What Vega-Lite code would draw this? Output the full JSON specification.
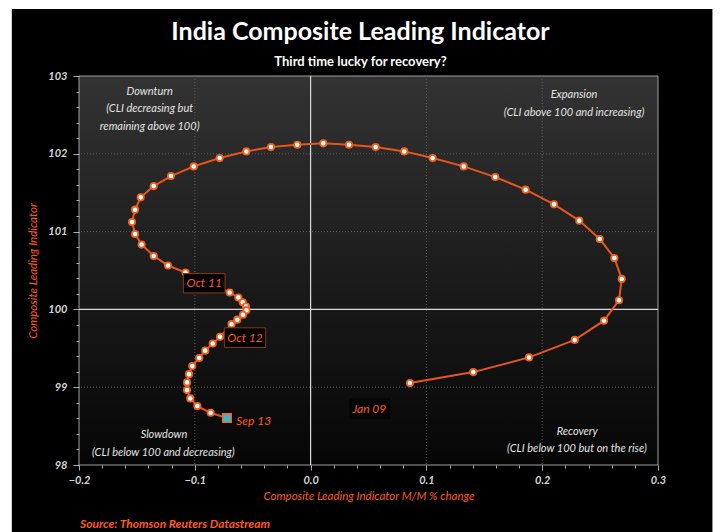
{
  "$schema": "https://vega.github.io/schema/vega-lite/v6.json",
  "width": 579,
  "height": 389,
  "autosize": "none",
  "padding": {"left": 79, "top": 76, "right": 62, "bottom": 67},
  "background": "white",
  "config": {"view": {"stroke": null}, "font": "Lato"},
  "title": {
    "text": "India Composite Leading Indicator",
    "subtitle": "Third time lucky for recovery?",
    "color": "white",
    "subtitleColor": "white",
    "font": "Lato",
    "fontSize": 25,
    "fontWeight": "bold",
    "subtitleFont": "Lato",
    "subtitleFontSize": 13,
    "subtitleFontWeight": "bold",
    "subtitlePadding": 11,
    "anchor": "middle",
    "frame": "group",
    "offset": -60,
    "dx": -8,
    "zindex": 2
  },
  "datasets": {
    "pts": [
      {"i": 1, "x": 0.0858, "y": 99.053},
      {"i": 2, "x": 0.1405, "y": 99.194},
      {"i": 3, "x": 0.1886, "y": 99.383},
      {"i": 4, "x": 0.2281, "y": 99.608},
      {"i": 5, "x": 0.2534, "y": 99.855},
      {"i": 6, "x": 0.2663, "y": 100.118},
      {"i": 7, "x": 0.2687, "y": 100.392},
      {"i": 8, "x": 0.2623, "y": 100.661},
      {"i": 9, "x": 0.2497, "y": 100.905},
      {"i": 10, "x": 0.2320, "y": 101.141},
      {"i": 11, "x": 0.2102, "y": 101.350},
      {"i": 12, "x": 0.1857, "y": 101.539},
      {"i": 13, "x": 0.1595, "y": 101.701},
      {"i": 14, "x": 0.1322, "y": 101.838},
      {"i": 15, "x": 0.1054, "y": 101.945},
      {"i": 16, "x": 0.0809, "y": 102.031},
      {"i": 17, "x": 0.0562, "y": 102.086},
      {"i": 18, "x": 0.0332, "y": 102.117},
      {"i": 19, "x": 0.0110, "y": 102.134},
      {"i": 20, "x": -0.0115, "y": 102.117},
      {"i": 21, "x": -0.0342, "y": 102.086},
      {"i": 22, "x": -0.0555, "y": 102.031},
      {"i": 23, "x": -0.0785, "y": 101.945},
      {"i": 24, "x": -0.1009, "y": 101.838},
      {"i": 25, "x": -0.1206, "y": 101.714},
      {"i": 26, "x": -0.1355, "y": 101.585},
      {"i": 27, "x": -0.1467, "y": 101.440},
      {"i": 28, "x": -0.1516, "y": 101.282},
      {"i": 29, "x": -0.1542, "y": 101.123},
      {"i": 30, "x": -0.1516, "y": 100.969},
      {"i": 31, "x": -0.1459, "y": 100.833},
      {"i": 32, "x": -0.1355, "y": 100.687},
      {"i": 33, "x": -0.1231, "y": 100.564},
      {"i": 34, "x": -0.1080, "y": 100.474},
      {"i": 35, "x": -0.0699, "y": 100.217},
      {"i": 36, "x": -0.0624, "y": 100.153},
      {"i": 37, "x": -0.0586, "y": 100.092},
      {"i": 38, "x": -0.0558, "y": 100.037},
      {"i": 39, "x": -0.0554, "y": 99.990},
      {"i": 40, "x": -0.0584, "y": 99.932},
      {"i": 41, "x": -0.0633, "y": 99.868},
      {"i": 42, "x": -0.0683, "y": 99.810},
      {"i": 43, "x": -0.0782, "y": 99.647},
      {"i": 44, "x": -0.0845, "y": 99.562},
      {"i": 45, "x": -0.0910, "y": 99.470},
      {"i": 46, "x": -0.0962, "y": 99.376},
      {"i": 47, "x": -0.1022, "y": 99.271},
      {"i": 48, "x": -0.1050, "y": 99.168},
      {"i": 49, "x": -0.1067, "y": 99.062},
      {"i": 50, "x": -0.1067, "y": 98.963},
      {"i": 51, "x": -0.1039, "y": 98.856},
      {"i": 52, "x": -0.0978, "y": 98.757},
      {"i": 53, "x": -0.0863, "y": 98.671},
      {"i": 54, "x": -0.0722, "y": 98.603}
    ],
    "boxes": [
      {"label": "Oct 11", "x1": -0.1099, "x2": -0.0739, "y1": 100.461, "y2": 100.212, "fill": "#000000", "stroke": "#8a3a18"},
      {"label": "Oct 12", "x1": -0.0745, "x2": -0.0388, "y1": 99.763, "y2": 99.511, "fill": "#000000", "stroke": "#8a3a18"},
      {"label": "Jan 09", "x1": 0.0340, "x2": 0.0685, "y1": 98.85, "y2": 98.60, "fill": "#050505", "stroke": "#050505"}
    ],
    "dates": [
      {"label": "Oct 11", "lx": -0.0919, "ly": 100.337},
      {"label": "Oct 12", "lx": -0.0567, "ly": 99.637},
      {"label": "Sep 13", "lx": -0.0491, "ly": 98.565},
      {"label": "Jan 09", "lx": 0.0507, "ly": 98.72}
    ],
    "notes": [
      {"text": "Downturn", "nx": -0.139, "ny": 102.79},
      {"text": "(CLI decreasing but", "nx": -0.139, "ny": 102.57},
      {"text": "remaining above 100)", "nx": -0.139, "ny": 102.35},
      {"text": "Expansion", "nx": 0.2275, "ny": 102.75},
      {"text": "(CLI above 100 and increasing)", "nx": 0.2275, "ny": 102.53},
      {"text": "Slowdown", "nx": -0.1266, "ny": 98.38},
      {"text": "(CLI below 100 and decreasing)", "nx": -0.1272, "ny": 98.16},
      {"text": "Recovery", "nx": 0.2303, "ny": 98.42},
      {"text": "(CLI below 100 but on the rise)", "nx": 0.2300, "ny": 98.20}
    ],
    "gridx": [{"gx": -0.1}, {"gx": 0.1}, {"gx": 0.2}],
    "gridy": [{"gy": 99}, {"gy": 101}, {"gy": 102}],
    "source": [{"text": "Source: Thomson Reuters Datastream", "sx": -0.1991, "sy": 97.236}]
  },
  "resolve": {"axis": {"x": "independent", "y": "independent"}},
  "layer": [
    {
      "data": {"values": [{}]},
      "mark": {"type": "rect", "fill": "#000000"},
      "encoding": {
        "x": {
          "datum": -0.258, "type": "quantitative",
          "scale": {"domain": [-0.2, 0.3], "nice": false, "zero": false},
          "axis": {
            "orient": "bottom",
            "values": [-0.2, -0.1, 0, 0.1, 0.2, 0.3],
            "format": ".1f",
            "grid": false, "domain": false, "labelFlush": false,
            "tickColor": "#b0b0b0", "tickSize": 5,
            "labelColor": "#d6d6d6", "labelFont": "Lato", "labelFontStyle": "italic", "labelFontWeight": "bold", "labelFontSize": 11, "labelPadding": 4,
            "title": "Composite Leading Indicator M/M % change",
            "titleColor": "#ff5a1f", "titleFont": "Lato", "titleFontStyle": "italic", "titleFontWeight": "normal", "titleFontSize": 11.5, "titlePadding": 5,
            "zindex": 1
          }
        },
        "x2": {"datum": 0.347},
        "y": {
          "datum": 97.0, "type": "quantitative",
          "scale": {"domain": [98, 103], "nice": false, "zero": false},
          "axis": {
            "orient": "left",
            "values": [98, 99, 100, 101, 102, 103],
            "format": "d",
            "grid": false, "domain": false, "labelFlush": false,
            "tickColor": "#b0b0b0", "tickSize": 6,
            "labelColor": "#d6d6d6", "labelFont": "Lato", "labelFontStyle": "italic", "labelFontWeight": "bold", "labelFontSize": 11, "labelPadding": 6,
            "title": "Composite Leading Indicator",
            "titleColor": "#ff5a1f", "titleFont": "Lato", "titleFontStyle": "italic", "titleFontWeight": "normal", "titleFontSize": 11.5, "titlePadding": 9,
            "zindex": 1
          }
        },
        "y2": {"datum": 103.86}
      }
    },
    {
      "data": {"values": [{}]},
      "mark": {
        "type": "rect",
        "stroke": "#a0a0a0", "strokeWidth": 1,
        "fill": {"gradient": "linear", "x1": 0, "y1": 0, "x2": 0, "y2": 1,
          "stops": [{"offset": 0, "color": "#333333"}, {"offset": 0.5, "color": "#1c1c1c"}, {"offset": 1, "color": "#060606"}]}
      },
      "encoding": {
        "x": {
          "datum": -0.2, "type": "quantitative",
          "axis": {
            "orient": "bottom",
            "values": [-0.18, -0.16, -0.14, -0.12, -0.08, -0.06, -0.04, -0.02, 0.02, 0.04, 0.06, 0.08, 0.12, 0.14, 0.16, 0.18, 0.22, 0.24, 0.26, 0.28],
            "labels": false, "grid": false, "domain": false, "title": null,
            "tickColor": "#b0b0b0", "tickSize": 3, "zindex": 1
          }
        },
        "x2": {"datum": 0.3},
        "y": {
          "datum": 98, "type": "quantitative",
          "axis": {
            "orient": "left",
            "values": [98.2, 98.4, 98.6, 98.8, 99.2, 99.4, 99.6, 99.8, 100.2, 100.4, 100.6, 100.8, 101.2, 101.4, 101.6, 101.8, 102.2, 102.4, 102.6, 102.8],
            "labels": false, "grid": false, "domain": false, "title": null,
            "tickColor": "#b0b0b0", "tickSize": 3, "zindex": 1
          }
        },
        "y2": {"datum": 103}
      }
    },
    {
      "data": {"name": "gridx"},
      "mark": {"type": "rule", "color": "#5a5a5a", "strokeDash": [1, 2], "strokeWidth": 1},
      "encoding": {"x": {"field": "gx", "type": "quantitative", "axis": null}}
    },
    {
      "data": {"name": "gridy"},
      "mark": {"type": "rule", "color": "#5a5a5a", "strokeDash": [1, 2], "strokeWidth": 1},
      "encoding": {"y": {"field": "gy", "type": "quantitative", "axis": null}}
    },
    {
      "data": {"values": [{}]},
      "mark": {"type": "rule", "color": "#d8d8d8", "strokeWidth": 1.2},
      "encoding": {"x": {"datum": 0, "type": "quantitative", "axis": null}}
    },
    {
      "data": {"values": [{}]},
      "mark": {"type": "rule", "color": "#d8d8d8", "strokeWidth": 1.2},
      "encoding": {"y": {"datum": 100, "type": "quantitative", "axis": null}}
    },
    {
      "data": {"name": "pts"},
      "mark": {"type": "line", "color": "#e8561e", "strokeWidth": 2},
      "encoding": {
        "x": {"field": "x", "type": "quantitative", "axis": null},
        "y": {"field": "y", "type": "quantitative", "axis": null},
        "order": {"field": "i", "type": "quantitative"}
      }
    },
    {
      "data": {"name": "pts"},
      "transform": [{"filter": "datum.i < 54"}],
      "mark": {"type": "point", "shape": "circle", "filled": true, "fill": "#ffffff", "stroke": "#f06020", "strokeWidth": 1.8, "size": 40, "opacity": 1},
      "encoding": {
        "x": {"field": "x", "type": "quantitative", "axis": null},
        "y": {"field": "y", "type": "quantitative", "axis": null}
      }
    },
    {
      "data": {"name": "pts"},
      "transform": [{"filter": "datum.i == 54"}],
      "mark": {"type": "point", "shape": "square", "filled": true, "fill": "#35b8d6", "stroke": "#f07020", "strokeWidth": 1.6, "size": 70, "opacity": 1},
      "encoding": {
        "x": {"field": "x", "type": "quantitative", "axis": null},
        "y": {"field": "y", "type": "quantitative", "axis": null}
      }
    },
    {
      "data": {"name": "boxes"},
      "mark": {"type": "rect", "strokeWidth": 1},
      "encoding": {
        "x": {"field": "x1", "type": "quantitative", "axis": null},
        "x2": {"field": "x2"},
        "y": {"field": "y1", "type": "quantitative", "axis": null},
        "y2": {"field": "y2"},
        "fill": {"field": "fill", "type": "nominal", "scale": null},
        "stroke": {"field": "stroke", "type": "nominal", "scale": null}
      }
    },
    {
      "data": {"name": "dates"},
      "mark": {"type": "text", "font": "Lato", "fontStyle": "italic", "fontSize": 12, "color": "#ff5a1f", "align": "center", "baseline": "middle"},
      "encoding": {
        "x": {"field": "lx", "type": "quantitative", "axis": null},
        "y": {"field": "ly", "type": "quantitative", "axis": null},
        "text": {"field": "label"}
      }
    },
    {
      "data": {"name": "notes"},
      "mark": {"type": "text", "font": "Lato", "fontStyle": "italic", "fontSize": 11, "color": "#e4e4e4", "align": "center", "baseline": "middle"},
      "encoding": {
        "x": {"field": "nx", "type": "quantitative", "axis": null},
        "y": {"field": "ny", "type": "quantitative", "axis": null},
        "text": {"field": "text"}
      }
    },
    {
      "data": {"name": "source"},
      "mark": {"type": "text", "font": "Lato", "fontStyle": "italic", "fontWeight": "bold", "fontSize": 12, "color": "#ff5a1f", "align": "left", "baseline": "middle"},
      "encoding": {
        "x": {"field": "sx", "type": "quantitative", "axis": null},
        "y": {"field": "sy", "type": "quantitative", "axis": null},
        "text": {"field": "text"}
      }
    }
  ]
}
